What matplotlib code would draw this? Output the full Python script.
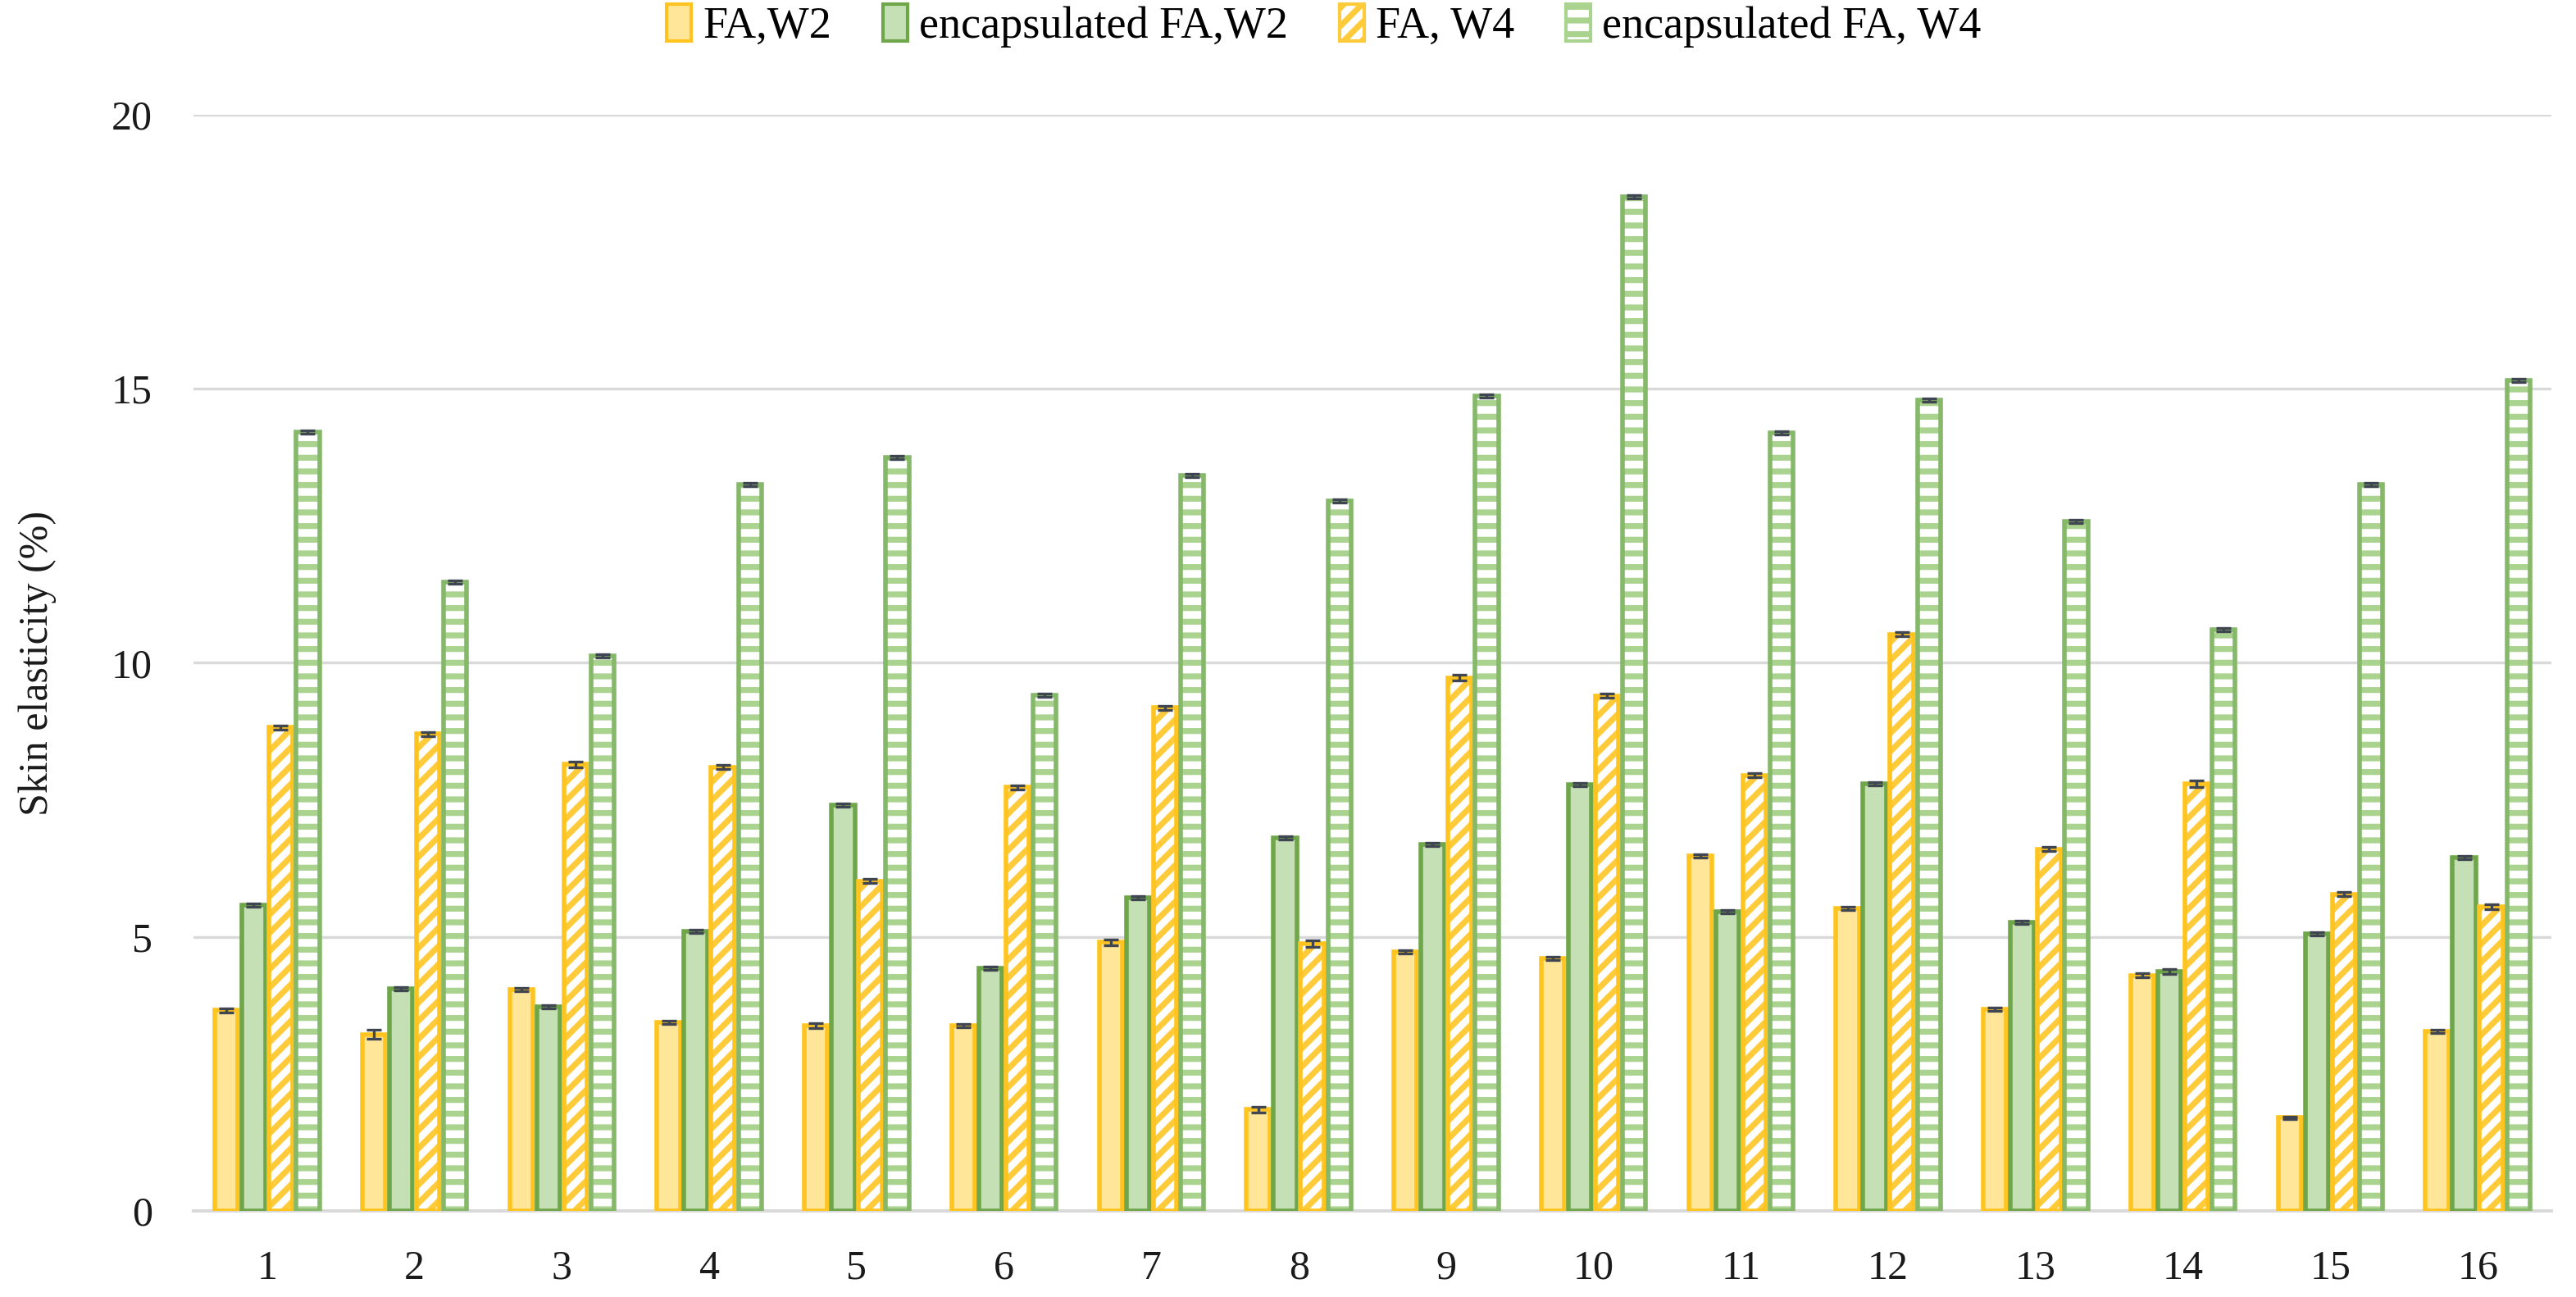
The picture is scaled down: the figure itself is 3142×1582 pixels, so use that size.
import matplotlib
matplotlib.use("Agg")
import matplotlib.pyplot as plt
import numpy as np

categories = [str(i) for i in range(1, 17)]
fa_w2 = [3.66, 3.22, 4.04, 3.44, 3.38, 3.38, 4.90, 1.85, 4.72, 4.60, 6.48, 5.52, 3.68, 4.30, 1.70, 3.28]
enc_w2 = [5.58, 4.05, 3.72, 5.10, 7.40, 4.43, 5.72, 6.80, 6.68, 7.78, 5.46, 7.80, 5.27, 4.37, 5.05, 6.45]
fa_w4 = [8.82, 8.70, 8.15, 8.10, 6.02, 7.73, 9.18, 4.87, 9.73, 9.40, 7.95, 10.52, 6.60, 7.80, 5.78, 5.55]
enc_w4 = [14.21, 11.47, 10.13, 13.25, 13.75, 9.41, 13.42, 12.95, 14.87, 18.50, 14.20, 14.80, 12.58, 10.60, 13.25, 15.15]
err_fa_w2 = [0.04, 0.08, 0.03, 0.03, 0.04, 0.03, 0.05, 0.05, 0.03, 0.03, 0.03, 0.03, 0.03, 0.04, 0.02, 0.03]
err_enc_w2 = [0.03, 0.03, 0.03, 0.03, 0.03, 0.03, 0.03, 0.03, 0.03, 0.03, 0.03, 0.03, 0.03, 0.04, 0.03, 0.03]
err_fa_w4 = [0.04, 0.04, 0.05, 0.04, 0.04, 0.04, 0.04, 0.06, 0.05, 0.04, 0.04, 0.04, 0.04, 0.06, 0.04, 0.04]
err_enc_w4 = [0.03, 0.03, 0.03, 0.03, 0.03, 0.03, 0.03, 0.03, 0.03, 0.03, 0.03, 0.03, 0.03, 0.03, 0.03, 0.03]
labels = ["FA,W2", "encapsulated FA,W2", "FA, W4", "encapsulated FA, W4"]

plt.rcParams['font.family'] = ['Liberation Serif', 'DejaVu Serif']
plt.rcParams['hatch.linewidth'] = 2.6

fig = plt.figure(figsize=(15.71, 7.91), dpi=200)
ax = fig.add_axes([236/3142, 1-1477/1582, (3112-236)/3142, (1477-140)/1582])

x = np.arange(len(categories))
w = 0.158
step = 0.184
series = [
    (fa_w2, err_fa_w2, '#FFE699', None, '#FFE699', '#FFC41F'),
    (enc_w2, err_enc_w2, '#C5E0B4', None, '#C5E0B4', '#6FA64A'),
    (fa_w4, err_fa_w4, 'white', '///', '#FFCB3A', '#FFC41F'),
    (enc_w4, err_enc_w4, 'white', '--', '#A9D38E', '#86B86A'),
]
handles = []
for i, (vals, errs, fc, hatch, hc, ec) in enumerate(series):
    pos = x + (i - 1.5) * step
    if hatch:
        ax.bar(pos, vals, width=w, facecolor=fc, edgecolor=hc, hatch=hatch,
               linewidth=0, zorder=3)
        b = ax.bar(pos, vals, width=w, facecolor='none', edgecolor=ec,
                   linewidth=2.0, zorder=3.5)
    else:
        b = ax.bar(pos, vals, width=w, facecolor=fc, edgecolor=ec,
                   linewidth=2.0, zorder=3)
    ax.errorbar(pos, vals, yerr=errs, fmt='none', ecolor='#404552', elinewidth=1.2,
                capsize=3.2, capthick=1.2, zorder=4)
    handles.append(b)

# legend proxies
from matplotlib.patches import Patch
proxies = []
for (vals, errs, fc, hatch, hc, ec) in series:
    if hatch:
        proxies.append(Patch(facecolor=fc, edgecolor=hc, hatch=hatch, linewidth=1.5))
    else:
        proxies.append(Patch(facecolor=fc, edgecolor=ec, linewidth=1.5))

ax.set_xlim(-0.5, len(categories) - 0.5)
ax.set_ylim(0, 20)
ax.set_yticks([0, 5, 10, 15, 20])
ax.set_xticks(x)
ax.set_xticklabels(categories)
ax.yaxis.grid(True, color='#D9D9D9', linewidth=1.2, zorder=0)
ax.set_axisbelow(True)
for s in ['top', 'right', 'left']:
    ax.spines[s].set_visible(False)
ax.spines['bottom'].set_color('#D9D9D9')
ax.spines['bottom'].set_linewidth(1.4)
ax.tick_params(axis='both', length=0, labelsize=18, colors='#1a1a1a')
ax.tick_params(axis='x', pad=17)
ax.tick_params(axis='y', pad=18)
ax.set_ylabel("Skin elasticity (%)", fontsize=18, color='#1a1a1a', labelpad=24)

fig.legend(handles=proxies, labels=labels, loc='center', bbox_to_anchor=(0.514, 0.980),
           ncol=4, frameon=False, fontsize=19.5, handlelength=0.55, handleheight=0.9,
           handletextpad=0.27, columnspacing=1.15)

fig.savefig("out.png", dpi=200)
